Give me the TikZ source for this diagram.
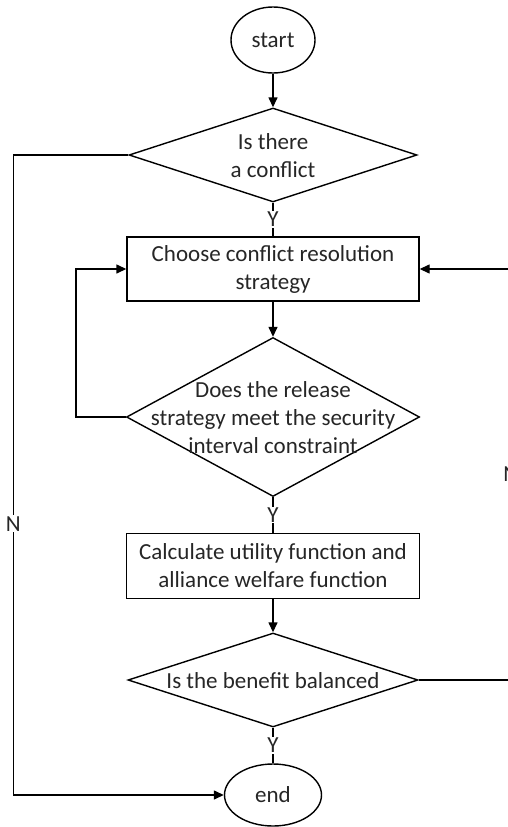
\documentclass[tikz,border=0pt]{standalone}
\usepackage{fontspec}
\setmainfont{Carlito}
\usetikzlibrary{shapes.geometric,arrows.meta}
\begin{document}
\begin{tikzpicture}[x=1pt,y=-1pt,line width=1.4pt,
  every node/.style={font=\fontsize{23}{28}\selectfont, text=black!85},
  box/.style={draw, rectangle, minimum width=293pt, minimum height=65pt, align=center, inner sep=0pt},
  dia/.style={draw, diamond, inner sep=0pt},
  oval/.style={draw, ellipse, inner sep=0pt},
  txt/.style={align=center, inner sep=0pt},
  lab/.style={fill=white, inner sep=1pt},
  arr/.style={-{Triangle[length=10pt,width=9pt]}}]
\clip (0,0) rectangle (508,827);
\fill[white] (0,0) rectangle (508,827);
% nodes
\node[oval, minimum width=84pt, minimum height=66pt] (start) at (273,40) {start};
\node[dia, minimum width=288pt, minimum height=94pt] (d1) at (273,155) {};
\node[txt] (d1t) at (273,156) {Is there\\a conflict};
\node[box, minimum width=292pt, minimum height=64pt] (b1) at (273,269) {Choose conflict resolution\\strategy};
\node[dia, minimum width=293pt, minimum height=159pt] (d2) at (273,417) {};
\node[txt] (d2t) at (273,418) {Does the release\\strategy meet the security\\interval constraint};
\node[box] (b2) at (273,566) {Calculate utility function and\\alliance welfare function};
\node[dia, minimum width=290pt, minimum height=94pt] (d3) at (273,680) {};
\node[txt] (d3t) at (273,681) {Is the benefit balanced};
\node[oval, minimum width=97pt, minimum height=62pt] (end) at (273,795) {end};
% connectors
\draw[arr] (start) -- (d1);
\draw (d1.south) -- node[lab] (y1) {Y} (b1.north);
\draw[arr] (b1) -- (d2);
\draw (d2.south) -- node[lab] (y2) {Y} (b2.north);
\draw[arr] (b2) -- (d3);
\draw (d3.south) -- node[lab] (y3) {Y} (end.north);
\draw[arr] (d2.west) -- ++(-50,0) |- (b1.west);
\draw[arr] (d1.west) -- ++(-115,0) |- node[pos=0.288, lab] (n1) {N} (end.west);
\draw[arr] (d3.east) -- ++(92,0) |- node[pos=0.25, lab] (n2) {N} (b1.east);
\end{tikzpicture}
\end{document}
